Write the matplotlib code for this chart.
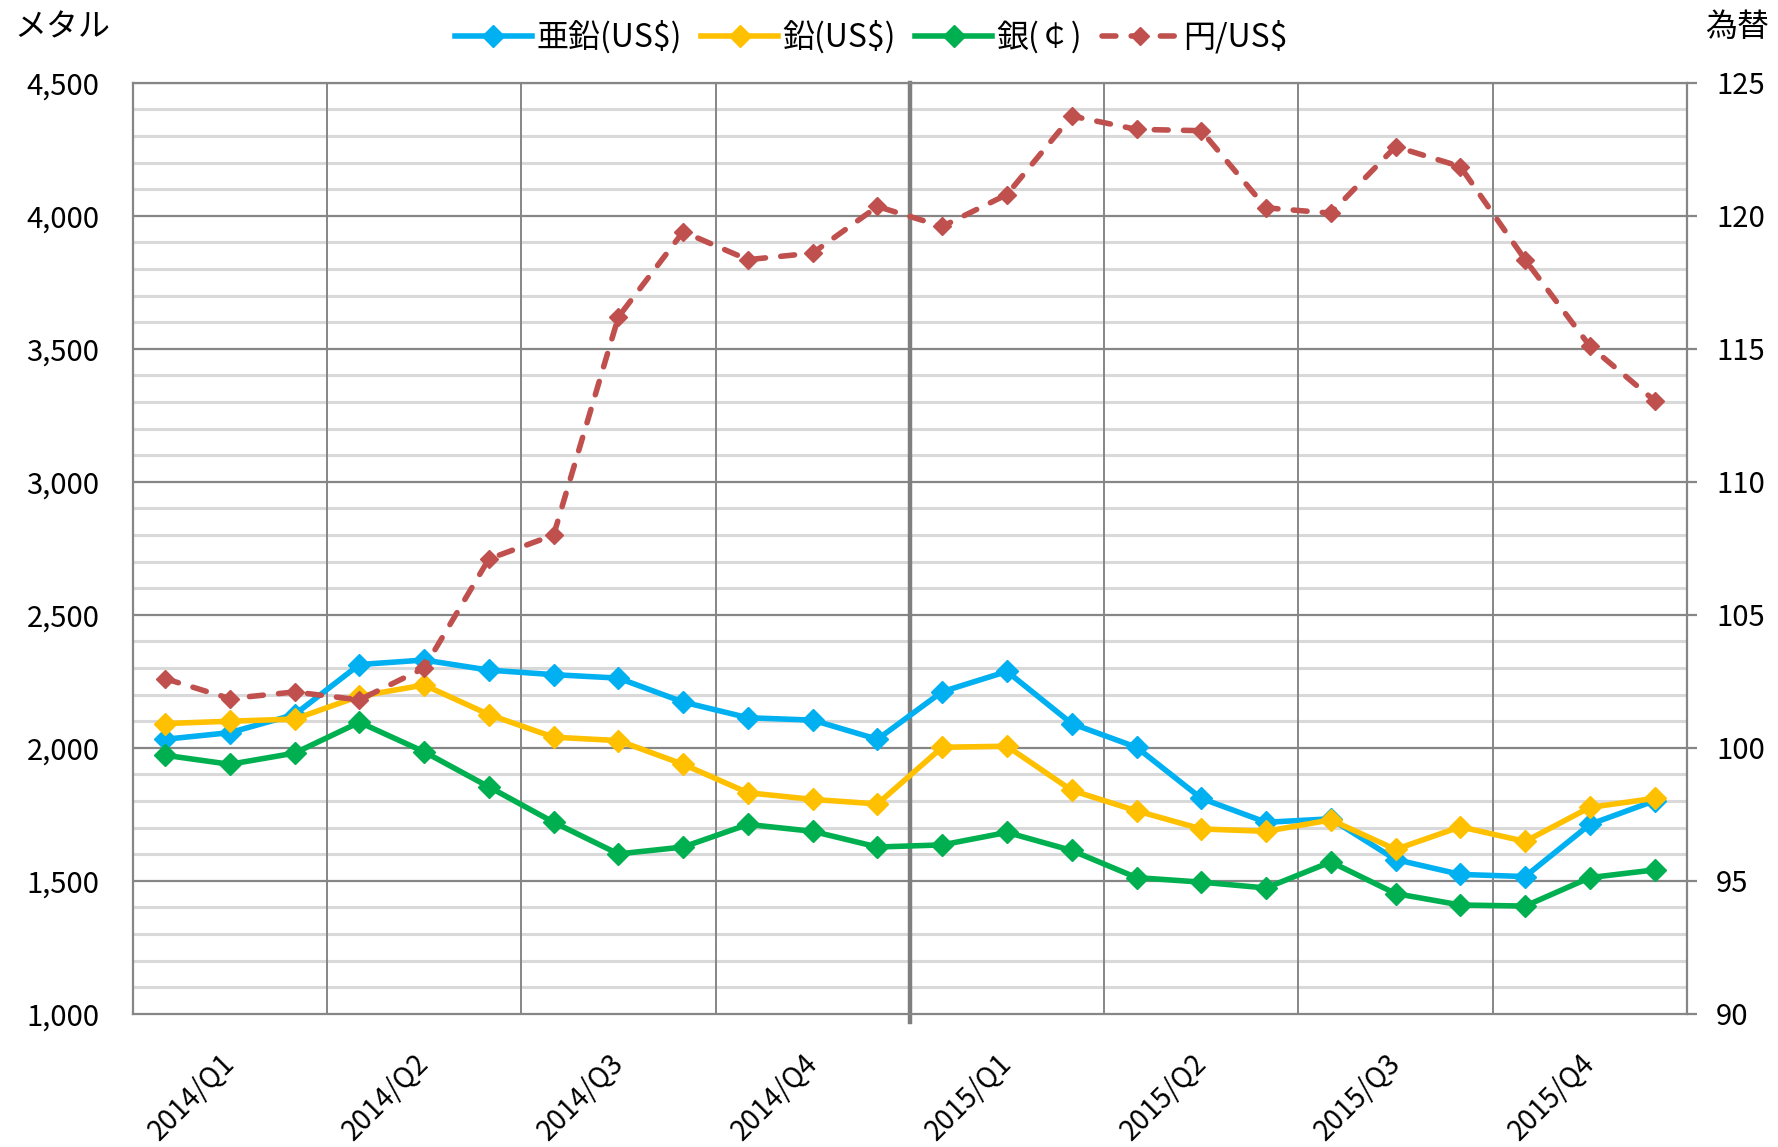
import matplotlib
matplotlib.use("Agg")
import matplotlib.pyplot as plt
import matplotlib.transforms as mtransforms
import numpy as np

plt.rcParams['font.family'] = ['Noto Sans CJK JP', 'DejaVu Sans']

quarters = ["2014/Q1", "2014/Q2", "2014/Q3", "2014/Q4",
            "2015/Q1", "2015/Q2", "2015/Q3", "2015/Q4"]
months_per_quarter = 3

zinc = [2032, 2057, 2125, 2313, 2330, 2292, 2275, 2262, 2172, 2113, 2104, 2032,
        2211, 2287, 2091, 2002, 1810, 1720, 1733, 1580, 1524, 1516, 1712, 1801]
lead = [2091, 2100, 2108, 2194, 2236, 2125, 2040, 2027, 1938, 1831, 1806, 1789,
        2002, 2006, 1840, 1763, 1695, 1686, 1729, 1618, 1703, 1648, 1776, 1810]
silver = [1972, 1938, 1980, 2096, 1985, 1853, 1720, 1601, 1627, 1712, 1686, 1627,
          1635, 1682, 1614, 1512, 1495, 1473, 1571, 1452, 1409, 1405, 1512, 1541]
yen = [102.6, 101.85, 102.1, 101.8, 103.0, 107.1, 108.0, 116.2, 119.4, 118.35, 118.6, 120.35,
       119.6, 120.8, 123.75, 123.25, 123.2, 120.3, 120.1, 122.6, 121.85, 118.35, 115.1, 113.05]

series_names = ["亜鉛(US$)", "鉛(US$)", "銀(￠)", "円/US$"]
colors = ["#00B0F0", "#FFC000", "#00B050", "#C0504D"]

n = len(zinc)
x = np.arange(n)

fig = plt.figure(figsize=(17.78, 11.47), dpi=100)
ax = fig.add_axes([132.7 / 1778, 1 - 1013.8 / 1147, (1687 - 132.7) / 1778, (1013.8 - 82.8) / 1147])
ax2 = ax.twinx()

ax.set_xlim(-0.5, n - 0.5)
ax.set_ylim(1000, 4500)
ax2.set_ylim(90, 125)

# gridlines
for v in np.arange(1000, 4501, 100):
    if v % 500 == 0:
        continue
    ax.axhline(v, color="#D9D9D9", lw=2.2, zorder=0.5)
for v in np.arange(1500, 4501, 500):
    ax.axhline(v, color="#868686", lw=1.6, zorder=0.8)

boundaries = np.arange(months_per_quarter - 0.5, n - 0.5, months_per_quarter)
trans = mtransforms.blended_transform_factory(ax.transData, ax.transAxes)
for b in boundaries:
    if abs(b - 11.5) < 1e-6:
        ax.plot([b, b], [-0.009, 1], color="#7F7F7F", lw=3.2, transform=trans,
                clip_on=False, zorder=0.9)
    else:
        ax.axvline(b, color="#868686", lw=1.4, zorder=0.9)

for sp in ["left", "right", "top", "bottom"]:
    ax.spines[sp].set_color("#868686")
    ax.spines[sp].set_linewidth(1.6)
    ax2.spines[sp].set_visible(False)

h1, = ax.plot(x, zinc, color=colors[0], lw=4.0, marker="D", ms=11.5, label=series_names[0], zorder=3)
h2, = ax.plot(x, lead, color=colors[1], lw=4.0, marker="D", ms=11.5, label=series_names[1], zorder=3)
h3, = ax.plot(x, silver, color=colors[2], lw=4.0, marker="D", ms=11.5, label=series_names[2], zorder=3)
h4, = ax2.plot(x, yen, color=colors[3], lw=4.0, marker="D", ms=9.5, label=series_names[3],
               linestyle=(0, (2.5, 2.75)), dash_capstyle="round", zorder=3)

ax.set_yticks(np.arange(1000, 4501, 500))
ax.set_yticklabels([f"{v:,}" for v in range(1000, 4501, 500)])
ax.tick_params(axis="y", length=0, pad=24, labelsize=21)

ax2.set_yticks(np.arange(90, 126, 5))
ax2.tick_params(axis="y", length=7, width=1.6, color="#868686", pad=14, labelsize=21)

qcenters = np.arange(1, n, months_per_quarter)
ax.set_xticks(qcenters)
ax.set_xticklabels(quarters, rotation=45, ha="right", va="top", rotation_mode="default")
ax.tick_params(axis="x", length=0, pad=25, labelsize=20)
offset = mtransforms.ScaledTranslation(8 / 72, 0, fig.dpi_scale_trans)
for lab in ax.get_xticklabels():
    lab.set_transform(lab.get_transform() + offset)

fig.text(14 / 1778, 1 - 27 / 1147, "メタル", fontsize=23, ha="left", va="center")
fig.text(1769 / 1778, 1 - 27 / 1147, "為替", fontsize=23, ha="right", va="center")

fig.legend(handles=[h1, h2, h3, h4], labels=series_names, loc="center",
           bbox_to_anchor=(0.49, 1 - 37 / 1147), ncol=4, frameon=False,
           fontsize=23, handlelength=2.4, handletextpad=0.15, columnspacing=0.6,
           borderpad=0.1)

fig.savefig("out.png", dpi=100)
